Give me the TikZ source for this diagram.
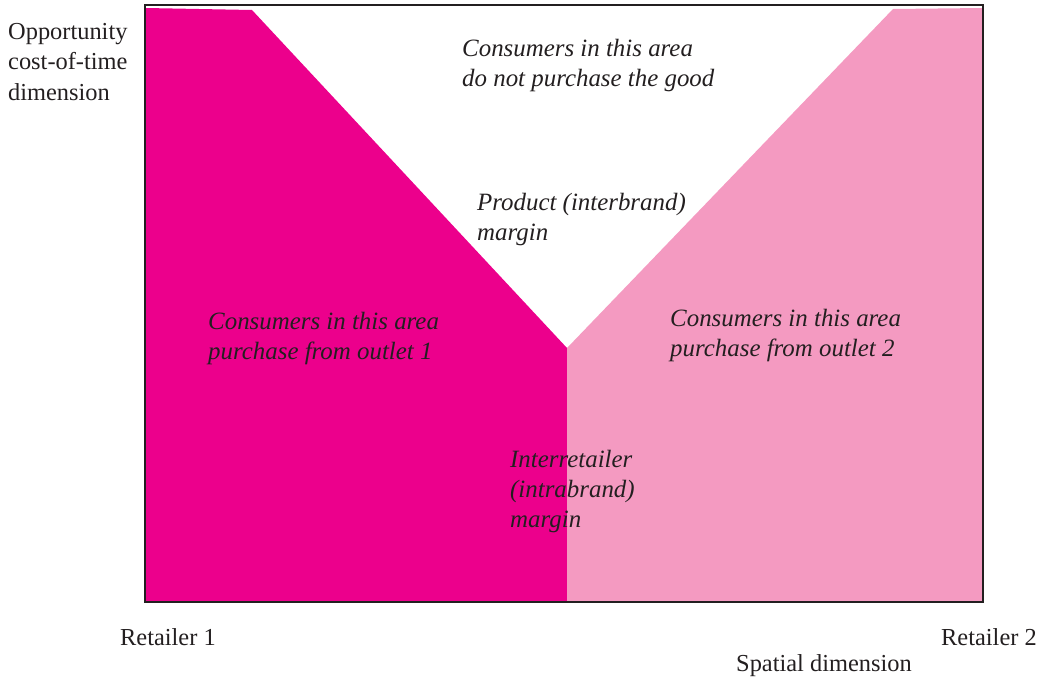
\documentclass[tikz,border=0pt]{standalone}
\usepackage{fontspec}
\setmainfont{Liberation Serif}
\definecolor{magentaA}{HTML}{EC008C}
\definecolor{pinkB}{HTML}{F49AC1}
\definecolor{inkC}{HTML}{231F20}
\begin{document}
\begin{tikzpicture}[x=1pt,y=-1pt,
  lbl/.style={anchor=west,inner sep=0pt,align=left,text=inkC,font=\fontsize{24.9}{30}\selectfont\itshape},
  axlbl/.style={anchor=west,inner sep=0pt,align=left,text=inkC,font=\fontsize{24.4}{30.5}\selectfont}]
\useasboundingbox (0,0) rectangle (1042,681);
\fill[magentaA] (146,8) -- (252,10) -- (567,348) -- (567,602) -- (146,602) -- cycle;
\fill[pinkB] (567,602) -- (567,348) -- (893,9) -- (982,8) -- (982,602) -- cycle;
\draw[inkC,line width=1.3pt] (145,5) rectangle (983,602);
\node[lbl] (none) at (462,66) {Consumers in this area\\do not purchase the good};
\node[lbl] (prod) at (477,220) {Product (interbrand)\\margin};
\node[lbl] (out1) at (208,339) {Consumers in this area\\purchase from outlet 1};
\node[lbl] (out2) at (670,336) {Consumers in this area\\purchase from outlet 2};
\node[lbl] (inter) at (510,492) {Interretailer\\(intrabrand)\\margin};
\node[axlbl] (opp) at (8,62) {Opportunity\\cost-of-time\\dimension};
\node[axlbl] (r1) at (120,637) {Retailer 1};
\node[axlbl] (r2) at (941,637) {Retailer 2};
\node[axlbl] (sp) at (736,666) {Spatial dimension};
\end{tikzpicture}
\end{document}
